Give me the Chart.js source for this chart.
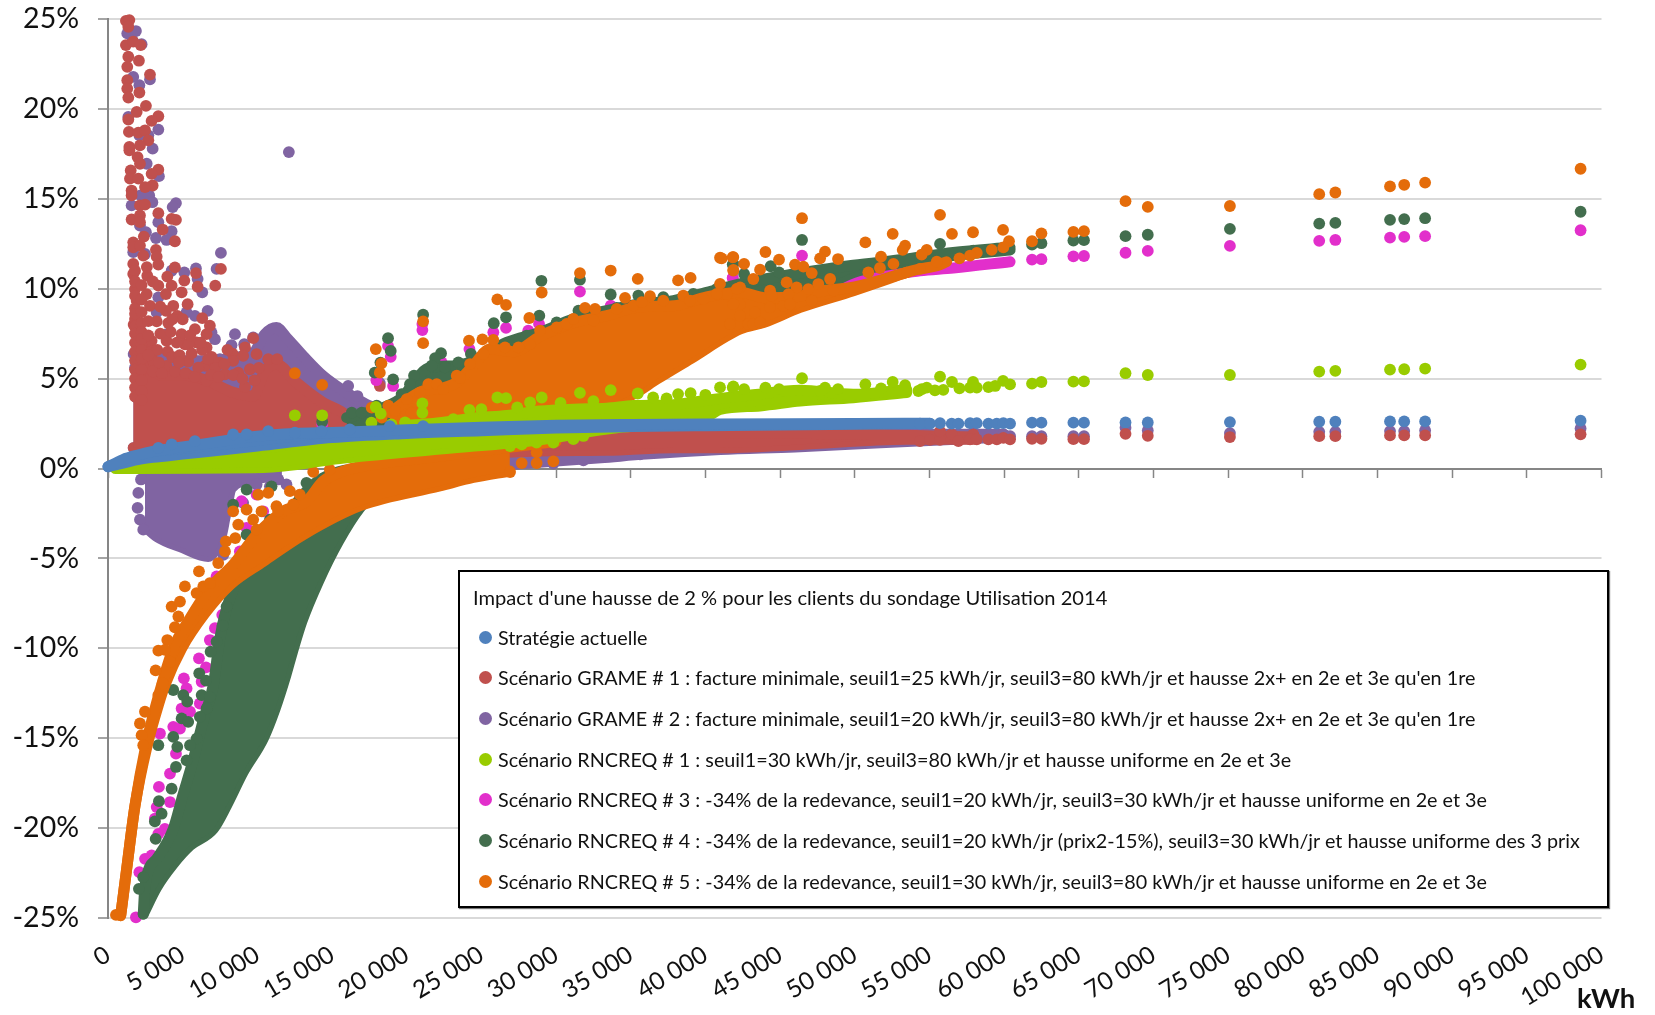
<!DOCTYPE html>
<html lang="fr">
<head>
<meta charset="utf-8">
<title>Impact d'une hausse de 2 %</title>
<script src="https://cdn.jsdelivr.net/npm/chart.js@4/dist/chart.umd.js"></script>
<style>
  html, body { margin: 0; padding: 0; background: #fff; }
  #wrap { position: relative; width: 1655px; height: 1015px; overflow: hidden; font-family: Lato, sans-serif; color: #111; }
  #legendBox { position: absolute; left: 458px; top: 570px; width: 1151px; height: 338px; background: #fff;
    border: 2px solid #000; box-shadow: 1px 1px 1px #777; box-sizing: border-box; }
  #legendBox div { position: absolute; white-space: nowrap; font-size: 19.75px; line-height: 24px; }
  #legendBox span { position: absolute; width: 13px; height: 13px; border-radius: 50%; }
  #unit { position: absolute; left: 1577px; top: 983px; font-size: 27.5px; font-weight: bold; line-height: 30px; }
</style>
</head>
<body>
<div id="wrap">
  <canvas id="chart" width="1655" height="1015"></canvas>
  <div id="legendBox"></div>
  <div id="unit">kWh</div>
</div>
<script>
const xTickLabels = ["0", "5 000", "10 000", "15 000", "20 000", "25 000", "30 000", "35 000", "40 000", "45 000", "50 000",
  "55 000", "60 000", "65 000", "70 000", "75 000", "80 000", "85 000", "90 000", "95 000", "100 000"];
const legendTitle = "Impact d'une hausse de 2 % pour les clients du sondage Utilisation 2014";
const seriesNames = [
  "Stratégie actuelle",
  "Scénario GRAME # 1 : facture minimale, seuil1=25 kWh/jr, seuil3=80 kWh/jr et hausse 2x+ en 2e et 3e qu'en 1re",
  "Scénario GRAME # 2 : facture minimale, seuil1=20 kWh/jr, seuil3=80 kWh/jr et hausse 2x+ en 2e et 3e qu'en 1re",
  "Scénario RNCREQ # 1 : seuil1=30 kWh/jr, seuil3=80 kWh/jr et hausse uniforme en 2e et 3e",
  "Scénario RNCREQ # 3 : -34% de la redevance, seuil1=20 kWh/jr, seuil3=30 kWh/jr et hausse uniforme en 2e et 3e",
  "Scénario RNCREQ # 4 : -34% de la redevance, seuil1=20 kWh/jr (prix2-15%), seuil3=30 kWh/jr et hausse uniforme des 3 prix",
  "Scénario RNCREQ # 5 : -34% de la redevance, seuil1=30 kWh/jr, seuil3=80 kWh/jr et hausse uniforme en 2e et 3e"
];
const seriesColors = ["#4F81BD", "#C0504D", "#8064A2", "#99CC00", "#E22FCB", "#436E4E", "#E46C0A"];

// gros consommateurs, bien separes a droite
const farX = [61870, 62500, 64640, 65350, 68130, 69620, 75120, 81100, 82180, 85840, 86790, 88190, 98600];
const farBlue = [2.55, 2.55, 2.55, 2.55, 2.56, 2.56, 2.58, 2.6, 2.6, 2.62, 2.62, 2.62, 2.66];
const farRed = [1.65, 1.65, 1.63, 1.63, 1.93, 1.82, 1.75, 1.8, 1.8, 1.84, 1.84, 1.84, 1.9];
const farPurple = [1.8, 1.8, 1.8, 1.8, 2.27, 2.12, 1.97, 2.04, 2.04, 2.08, 2.08, 2.12, 2.23];
const farLime = [4.72, 4.81, 4.83, 4.85, 5.3, 5.2, 5.2, 5.39, 5.43, 5.5, 5.52, 5.56, 5.78];
const farMagenta = [11.62, 11.64, 11.8, 11.82, 12.0, 12.1, 12.38, 12.66, 12.71, 12.84, 12.88, 12.92, 13.25];
const farGreen = [12.45, 12.53, 12.68, 12.7, 12.92, 13.0, 13.33, 13.62, 13.66, 13.83, 13.87, 13.92, 14.28];
const farOrange = [12.64, 13.08, 13.16, 13.2, 14.87, 14.55, 14.6, 15.26, 15.35, 15.69, 15.78, 15.9, 16.67];

// Strategie actuelle
const blueUpper = [[0,0.1],[500,0.3],[1000,0.5],[2000,0.75],[3000,0.95],[5000,1.2],[7500,1.5],[10000,1.8],[12500,1.95],[15000,2.0],[20000,2.15],[25000,2.3],[30000,2.4],[35000,2.45],[40000,2.48],[50000,2.5],[55000,2.52]];
const blueLower = [[0,0.1],[500,0.2],[1000,0.3],[2000,0.5],[3000,0.62],[5000,0.8],[10000,1.25],[15000,1.72],[20000,1.95],[25000,2.1],[30000,2.25],[35000,2.33],[40000,2.38],[50000,2.46],[55000,2.5]];
const blueDots = [[3370,1.15],[4260,1.34],[5820,1.52],[8380,1.9],[9280,1.9],[10730,2.08],[12510,1.99],[14290,2.08],[16190,2.17],[18870,2.36],[21100,2.36],
  [54370,2.5],[55040,2.5],[55710,2.52],[56490,2.5],[56940,2.5],[57720,2.52],[58170,2.52],[58950,2.5],[59510,2.5],[59950,2.52],[60400,2.5]];

// GRAME # 1
const redUpper = [[1690,8],[2590,7],[3480,5.2],[5040,5.2],[6600,4.9],[8160,4.3],[9720,4.03],[10500,5.43],[11280,5.8],[12620,4.78],[14400,3.66],[15970,2.92],[16640,2.08]];
const redLower = [[1690,1.15],[5490,1.25],[16640,1.52]];
const redMidUpper = [[20000,2.0],[41000,2.0],[53500,1.85],[58000,1.75]];
const redMidLower = [[20000,0.5],[28930,0.98],[33390,1.01],[37860,1.16],[40980,1.15],[46340,1.34],[53480,1.62],[58000,1.62]];
const redDots = [[1200,24.9],[1430,24.94],[1360,24.57],[1200,23.55],[1690,23.74],[2190,23.55],[1360,22.9],[2070,22.68],[2810,21.91],[1290,22.34],[1290,21.6],[1290,21.13],[2100,20.91],[1360,20.63],[2540,20.17],[1920,19.83],[1360,19.41],[3370,19.59],[2920,19.33],[1400,18.72],[2030,18.68],[2480,18.81],[2700,18.25],[2140,17.97],[1430,17.88],[1430,17.7],[1980,17.32],[2140,16.95],[3370,16.62],[2920,16.39],[1520,16.58],[1470,16.12],[2030,16.12],[2990,15.74],[2480,15.65],[1580,15.46],[1580,15.19],[2140,14.63],[2480,14.68],[3370,14.2],[1580,13.85],[2140,14.07],[4260,13.88],[4550,13.83],[2140,13.7],[3660,13.29],[4480,12.64],[1690,12.58],[1690,12.3],[2140,12.4],[3210,12.16],[3260,11.78],[2360,11.84],[1690,11.38],[3370,11.34],[4480,11.19],[7560,11.1],[1690,10.82],[2630,10.72],[3970,10.67],[5890,10.87],[5110,10.45],[7180,10.17],[6000,10.11],[3370,10.17],[4260,10.17],[1810,9.98],[4930,9.8],[2590,9.7],[3880,9.7],[1920,9.33],[5330,9.14],[4370,9.05],[2810,9.05],[3880,8.77],[4640,8.49],[1810,8.31],[6310,8.36],[3260,8.18],[4040,8.09],[6820,7.94],[5820,7.75],[4930,7.47],[6600,7.47],[9720,7.25],[2920,7.1],[3920,7.1],[5930,7.01],[5150,6.91],[6600,6.73],[8340,6.39],[9170,6.73],[9950,6.36],[6940,6.21],[10730,6.08],[11330,6.08],[8380,5.99],[7490,5.89],[9050,6.26],[5370,5.95],[6490,5.71],[6040,5.61],[3920,5.71],[3030,5.99],[2140,5.89],[9500,5.52],[7830,5.24],[8720,5.33],[6600,4.87],[9170,4.54],[18200,4.59],
  [1810,11],[1810,10.4],[1810,9.6],[1810,8.9],[1810,8.6],[1810,7.9],[1810,7.5],[1810,7],[1810,6.5],[1810,6],[1810,5.5],[1810,5],[1810,4.5],[1810,4],
  [2250,10.2],[2250,9.4],[2250,8.7],[2250,8.1],[2250,7.6],[2250,7.2],[2250,6.6],[2250,6.1],[2250,5.5],[2250,4.9],[2250,4.3],[2250,3.8],
  [2700,8.2],[2700,7.4],[2900,6.5],[3300,6.6],[3500,7.5],[4000,6.5],[4300,6.2],[4600,7.0],[4800,6.3],[5400,6.9],[5600,6.4],[5000,8.3],[5500,7.4],[6300,6.6],[6200,7.0],[7000,6.0],[7200,5.6],[7800,5.8],[8400,5.2],[9000,5.0],[9800,4.9],[10100,5.6],[3000,5.4],[3600,5.3],[4500,5.4],[5200,5.3],[5800,5.1],[6900,5.2],[7400,5.1],
  [2400,12.9],[2600,11.2],[3000,10.4],[3500,9.0],[4300,8.3],[2700,6.3],[3400,5.9],[4200,7.6],[4750,5.9],[6700,6.1],[8000,6.6],
  [54370,1.52],[55040,1.6],[55710,1.6],[55710,2.07],[56490,1.9],[56940,1.52],[57940,1.9],[57720,1.62],[58170,1.62],[58950,1.62],[59510,1.62],[59950,1.7],[60400,1.62]];

// GRAME # 2
const purpleUpper = [[1690,6.36],[5490,5.99],[9720,6.45],[10500,7.47],[11280,7.84],[11950,7.29],[13070,6.26],[14400,5.15],[15970,4.22],[17300,3.57],[18870,3.01]];
const purpleLower = [[1690,1.15],[18870,1.6]];
const purpleNegUpper = [[2475,-0.15],[7050,-0.15],[11280,-0.15]];
const purpleNegLower = [[2475,-3.2],[3260,-3.77],[5040,-4.42],[6710,-4.89],[7600,-3.68],[7830,-2.75],[8270,-1.08],[9720,-0.61],[11280,-0.33]];
const purpleMidUpper = [[25000,1.5],[42000,1.9],[60000,1.9]];
const purpleMidLower = [[25000,0.1],[30000,0.42],[33000,0.6],[36000,0.8],[41000,1.05],[46000,1.2],[53500,1.5],[60000,1.75]];
const purpleDots = [[1290,24.2],[1870,24.33],[1650,23.79],[2250,23.6],[1690,21.78],[2100,21.32],[2810,21.64],[1360,19.55],[3370,18.85],[2700,18.53],[2100,18.53],[2990,17.79],[2590,16.95],[3410,16.26],[2190,15.19],[2760,15.19],[2970,14.81],[1580,14.63],[4550,14.76],[4330,14.54],[3370,13.7],[2140,13.51],[2540,13.14],[4260,13.2],[3210,12.82],[3920,12.71],[1690,12.03],[2480,11.93],[7560,11.99],[7270,11.1],[5890,11.13],[5110,10.91],[4260,11.0],[6000,10.54],[6310,9.8],[3370,9.52],[6670,8.77],[3260,8.68],[5820,8.49],[5260,8.68],[8500,7.47],[8270,6.86],[9120,6.91],[9720,7.29],[7160,7.19],[6930,7.57],[3920,7.47],[7490,6.08],[16080,4.59],[16700,4.03],[12110,17.6],[1810,5.61],[1920,3.94],
  [2210,-0.61],[2030,-1.36],[1980,-2.19],[2140,-2.84],[2360,-3.4],[11950,-0.89],[11400,-0.61],[10840,-0.99],[9950,-0.89],[9050,-1.91],[7720,-4.8],
  [29820,0.27],[31830,0.46],[33170,0.64],[35620,0.79],[54820,1.9],[56380,1.9],[57940,2.0],[59950,1.9],[60400,1.8],[18200,4.75]];

// RNCREQ # 1
const limeUpper = [[500,0.05],[2000,0.35],[5000,0.7],[10000,1.1],[15000,1.6],[22000,2.0],[30000,2.4],[40000,2.5]];
const limeLower = [[500,0],[10400,0.05],[15535,0.55],[22230,1.08],[28930,1.6],[34060,2.27],[40000,2.5]];
const limeTopUpper = [[20000,2.4],[21780,2.5],[24460,2.8],[26700,2.95],[28930,3.2],[31160,3.3],[33390,3.35],[35180,3.5],[37860,3.55],[40090,3.8],[43210,4.1],[46340,4.35],[49900,4.13],[53480,4.4]];
const limeTopLower = [[20000,2.3],[30000,2.5],[35000,2.74],[40090,2.9],[40980,3.29],[43660,3.48],[46340,3.75],[49900,3.94],[53480,4.22]];
const limeDots = [[12510,2.96],[14340,2.96],[17930,3.42],[18260,3.05],[17640,2.55],[21050,3.62],[21050,3.1],[18980,2.45],[26920,1.25],[27700,1.35],[28700,1.44],[29820,1.44],[31160,1.63],[31830,1.81],[26470,1.53],
  [46470,5.02],[55710,5.11],[52540,4.81],[56510,4.81],[50710,4.68],[57920,4.81],[59930,4.87],[44020,4.5],[44930,4.41],[41830,4.5],[42590,4.41],[48010,4.5],[47680,4.31],[48880,4.41],[53370,4.63],[54820,4.5],[54480,4.41],[54260,4.31],[55370,4.35],[55930,4.37],[57010,4.46],[57720,4.5],[58170,4.5],[58950,4.53],[59400,4.59],[60400,4.68],[51760,4.46],
  [26070,3.95],[26650,3.91],[29040,3.95],[31600,4.21],[33660,4.36],[35470,4.17],[38170,4.14],[39010,4.19],[40980,4.51],[41870,4.56],[24200,3.26],[28260,3.67],[19890,2.56],[23120,2.74],[25000,3.3],[27400,3.4],[30300,3.65],[32500,3.75],[36500,3.95],[37400,3.9],[40000,4.1]];

// RNCREQ # 3
const magentaChain = [[30000,6],[36000,8.2],[42100,9.52],[45440,9.98],[49900,10.54],[53480,10.9],[54370,11.0],[56600,11.15],[60400,11.5]];
const magentaDots = [[1870,-24.96],[2100,-22.45],[2480,-21.71],[2920,-21.52],[3370,-20.32],[3810,-20.04],[3140,-19.48],[3260,-18.83],[4150,-18.55],[3410,-17.71],[4150,-16.97],[4550,-15.86],[4370,-14.37],[4820,-14.46],[3480,-14.74],[4930,-13.35],[5490,-13.53],[6150,-13.07],[5080,-11.67],[5260,-12.23],[6090,-10.56],[6560,-11.06],[6820,-9.54],[7230,-11.21],[6270,-11.86],[7160,-8.88],[7650,-8.14],[8380,-8.23],[8830,-7.03],[9280,-6.84],[7270,-6.0],[8830,-4.61],[9280,-3.31],[10390,-2.38],[8940,-1.82],[9950,-1.45],
  [14340,2.45],[16190,2.92],[17970,4.91],[18750,6.82],[18930,6.21],[19090,4.59],[21050,8.03],[21050,7.7],
  [24200,6.64],[25800,7.58],[26650,7.82],[28860,8.04],[31600,9.84],[33660,9.06],[35510,9.15],[41830,10.6],[41540,9.43],[28140,7.67],[21560,5.44],[22340,5.9],[20330,4.5],[46470,11.84],[41830,10.6]];

// RNCREQ # 4
const greenNegUpper = [[2360,-24.78],[2480,-23.2],[3260,-21.71],[4370,-20.04],[5000,-18.2],[5710,-16.2],[6380,-14],[7050,-12.04],[7490,-9.44],[8160,-7.21],[9500,-5.17],[11280,-3.49],[13070,-1.45],[14400,-0.52],[18870,0.22]];
const greenNegLower = [[2360,-24.78],[3260,-23.29],[4370,-21.99],[5490,-20.97],[7050,-20.04],[7940,-18.74],[9050,-16.88],[10390,-15.02],[11190,-13.35],[11910,-11.49],[12350,-10.2],[12980,-8.51],[14090,-6.28],[15430,-4.05],[16860,-2.19],[18870,-0.52]];
const greenPosUpper = [[15980,2.83],[17770,3.21],[19550,3.86],[21560,5.62],[23350,5.72],[24460,6.0],[26700,7.02],[28930,7.57],[31160,8.32],[33390,8.78],[35620,9.15],[37860,9.34],[40090,9.8],[42320,10.27],[46560,10.9],[49900,11.3],[53480,11.65],[56600,12.02],[60400,12.3]];
const greenPosLower = [[15980,1.5],[30000,2.5],[42320,8],[46560,9.5],[49900,10.9],[53480,11.5],[56600,11.85],[60400,12.15]];
const greenDots = [[3370,-15.39],[4370,-14.93],[4640,-15.48],[4550,-16.6],[5260,-16.23],[4260,-17.81],[3410,-18.5],[3590,-19.2],[3140,-19.63],[3190,-20.6],[2360,-22.73],[2070,-23.38],[4370,-12.32],[5040,-12.6],[5310,-12.97],[6110,-11.39],[6560,-11.8],[6870,-10.19],[6270,-12.6],[6820,-12.7],[6600,-13.35],[6150,-13.81],[4930,-13.9],[5370,-14.09],[5930,-15.02],[5490,-15.39],[7670,-8.74],[7270,-9.63],[7940,-7.68],[9280,-1.17],[8380,-2.01],[10840,-2.84],[9280,-3.68],[10950,-0.99],[13290,-0.8],[14180,-0.99],[14850,-0.61],
  [14340,2.6],[18750,7.25],[18930,6.54],[19090,4.96],[21100,8.55],[18240,5.89],[17860,5.33],
  [29020,10.44],[31600,10.5],[26650,8.41],[25830,8.08],[28880,8.5],[24300,6.37],[33660,9.68],[35510,9.62],[41870,11.39],[22300,6.41],[21900,6.14],[20490,5.16],[20220,4.69],[23460,5.9],[31500,8.78],[30040,8.13],
  [46470,12.71],[55710,12.49],[44370,11.25],[41830,11.34],[42590,10.82],[44930,10.91],[54370,11.75],[57940,12.12],[59060,12.16],[59950,12.27],
  [16320,3.11],[16990,3.11],[17990,3.49],[19660,4.14],[21670,5.72],[22560,5.62],[25800,6.74],[28030,7.39],[34060,8.93],[37180,9.53],[39190,9.71],[40760,9.99]];

// RNCREQ # 5
const orangeNegUpper = [[850,-24.87],[1250,-22.27],[1810,-18.74],[2540,-15.39],[3210,-13.16],[3590,-12.04],[4370,-10],[5490,-8.33],[6820,-6.65],[8380,-5.35],[9950,-3.68],[11730,-2.38],[13290,-1.82],[14400,-0.71],[15740,-0.15],[17080,0.13],[22210,0.68],[27000,1.2],[30000,1.5]];
const orangeNegLower = [[850,-24.87],[1250,-22.27],[1810,-18.74],[2630,-15.39],[3370,-13.16],[3810,-12.04],[4930,-10],[6490,-8.05],[8160,-6.47],[10390,-5.17],[13070,-3.68],[16970,-2.04],[22210,-0.97],[24460,-0.5],[26900,-0.14]];
const orangePosUpper = [[18880,3.11],[21115,4.32],[22010,4.41],[23350,4.79],[24460,5.72],[25580,6.65],[27140,6.5],[28930,7.35],[31160,8.1],[33390,8.5],[35620,9.0],[37860,9.05],[40090,9.55],[42320,9.8],[44000,9.5],[46000,9.55],[48000,9.9],[50000,10.1],[53480,10.91]];
const orangePosLower = [[18880,1.5],[30000,2.5],[35180,4.14],[36740,4.97],[38970,6.09],[42320,7.76],[43880,8.12],[46340,8.96],[49900,9.89],[53480,10.91]];
const orangeChain = [[53480,10.91],[54370,11.1],[55500,11.28],[56150,11.5]];
const orangeDots = [[535,-24.83],[2475,-13.53],[2140,-14.18],[2250,-14.83],[2360,-15.39],[3970,-9.54],[3370,-10.13],[3810,-10.09],[3190,-11.23],[4150,-10.74],[3660,-11.95],[3370,-12.6],[4260,-7.68],[4710,-8.23],[4480,-8.83],[4820,-7.4],[5150,-6.56],[5930,-6.93],[6090,-5.72],[6380,-6.56],[6820,-6.38],[7890,-4.05],[8520,-3.87],[7380,-5.26],[7830,-4.61],[8380,-2.38],[9280,-2.29],[8720,-3.12],[9720,-2.84],[9950,-3.4],[10280,-2.38],[10060,-1.45],[10730,-1.36],[11280,-2.1],[12180,-1.26],[11400,-2.38],[13740,-0.19],[14850,-0.06],[12840,-1.45],[12400,-2.0],
  [12510,5.3],[14340,4.65],[17930,6.64],[18310,5.85],[18200,5.33],[21100,8.18],[21100,6.97],
  [26070,9.41],[26650,9.1],[29040,9.79],[31600,10.87],[33660,11.01],[35470,10.55],[38170,10.46],[39010,10.6],[40980,11.72],[41870,11.76],[41870,11.01],[28210,8.37],[24170,7.11],[25070,7.18],[25800,7.15],[34620,9.49],[36290,9.58],[31940,8.93],[32610,8.87],[37180,9.34],[38520,9.62],[40980,10.27],
  [46470,13.92],[55710,14.11],[52540,13.05],[56510,13.05],[50710,12.58],[57920,13.14],[59930,13.27],[44020,12.04],[44930,11.62],[41830,11.75],[41090,11.69],[42590,11.38],[48010,12.06],[47680,11.69],[48880,11.65],[53370,12.4],[53210,12.16],[54820,12.16],[54480,11.9],[60330,12.64],[59950,12.3],[59170,12.16],[58170,11.99],[57720,11.84],[51760,11.78],[52590,11.38],[51690,11.15],[50910,10.91],[46000,11.34],[46560,11.23],[47120,10.87],[43660,11.06],[41870,11.04],[44330,8.96],[57010,11.69],[55490,11.51],[54370,11.1],[44330,9.89],[44440,9.61],[45440,10.35],[46110,10.07],[45560,9.7],[46890,9.98],[48350,10.54],[47560,10.26],[48570,9.89],[45220,9.05],[45670,9.14],[47120,9.33],[43210,10.54],[42320,10.07],[41430,9.7],[43320,8.68],[42320,8.49],[41650,8.03],[42880,8.03],[42320,9.14],[43210,8.03],[41870,9.14],[43660,8.12],
  [26920,-0.2],[27700,0.3],[28700,0.3],[29820,0.4],[28700,0.9],
  [20000,3.86],[20890,4.23],[21450,4.69],[22010,4.69],[22450,4.41],[23350,5.16],[24240,5.81],[23570,5.06],[25130,6.37],[26580,6.74],[27480,6.74],[28260,6.92],[28930,7.67],[30040,7.85],[30710,8.04],[31160,8.32],[32500,8.23],[34060,8.88],[35180,9.06],[35740,9.25],[38970,9.34],[39860,9.43],[40760,9.71],[42100,9.99],[17650,3.39],[18770,3.49],[19220,3.21],[18330,2.83],[20330,3.11]];

const [cBlue, cRed, cPurple, cLime, cMagenta, cGreen, cOrange] = seriesColors;
const pts = list => list.map(p => ({ x: p[0], y: p[1] }));
const zip = (xs, ys) => xs.map((x, i) => [x, ys[i]]);

function dots(color, list) {
  return { data: pts(list), backgroundColor: color, borderWidth: 0, pointRadius: 5.9, pointBorderWidth: 0, showLine: false, clip: false };
}
function chain(color, list) {
  return { data: pts(list), borderColor: color, backgroundColor: color, borderWidth: 11, borderCapStyle: "round", borderJoinStyle: "round",
    cubicInterpolationMode: "monotone", pointRadius: 0, showLine: true, clip: false };
}
function band(color, upper, lower) {
  return [Object.assign(chain(color, upper), { fill: "+1" }), chain(color, lower)];
}

// le premier jeu est dessine au-dessus des suivants
const datasets = [
  dots(cBlue, blueDots.concat(zip(farX, farBlue))),
  ...band(cBlue, blueUpper, blueLower),
  dots(cLime, limeDots.concat(zip(farX, farLime))),
  ...band(cLime, limeUpper, limeLower),
  ...band(cLime, limeTopUpper, limeTopLower),
  dots(cOrange, orangeDots.concat(zip(farX, farOrange))),
  chain(cOrange, orangeChain),
  ...band(cOrange, orangePosUpper, orangePosLower),
  ...band(cOrange, orangeNegUpper, orangeNegLower),
  dots(cGreen, greenDots.concat(zip(farX, farGreen))),
  ...band(cGreen, greenPosUpper, greenPosLower),
  ...band(cGreen, greenNegUpper, greenNegLower),
  dots(cMagenta, magentaDots.concat(zip(farX, farMagenta))),
  chain(cMagenta, magentaChain),
  dots(cRed, redDots.concat(zip(farX, farRed))),
  ...band(cRed, redUpper, redLower),
  ...band(cRed, redMidUpper, redMidLower),
  dots(cPurple, purpleDots.concat(zip(farX, farPurple))),
  ...band(cPurple, purpleUpper, purpleLower),
  ...band(cPurple, purpleNegUpper, purpleNegLower),
  ...band(cPurple, purpleMidUpper, purpleMidLower)
];

new Chart(document.getElementById("chart"), {
  type: "scatter",
  data: { datasets: datasets },
  options: {
    responsive: false,
    animation: false,
    layout: { padding: { left: 0, top: 19, right: 53.5, bottom: 0 } },
    plugins: { legend: { display: false }, tooltip: { enabled: false } },
    scales: {
      x: {
        type: "linear", min: 0, max: 100000,
        afterFit: s => { s.height = 97; },
        border: { display: false },
        grid: { display: false },
        ticks: {
          stepSize: 5000, autoSkip: false, minRotation: 31, maxRotation: 31, padding: 14,
          color: "#111", font: { family: "Lato", size: 24.5 },
          callback: (v, i) => xTickLabels[i]
        }
      },
      axisZero: {
        type: "linear", axis: "x", min: 0, max: 100000, position: { y: 0 },
        afterFit: s => { s.height = 0; },
        border: { display: true, color: "#868686", width: 2 },
        grid: { drawOnChartArea: false, drawTicks: true, tickLength: 8, tickColor: "#868686", tickWidth: 1.5 },
        ticks: { display: false, stepSize: 5000, autoSkip: false }
      },
      y: {
        min: -25, max: 25,
        afterFit: s => { s.width = 108; s.paddingTop = 0; s.paddingBottom = 0; },
        border: { display: true, color: "#868686", width: 2 },
        grid: { color: "#d9d9d9", lineWidth: 2, tickColor: "#868686", tickLength: 10, tickWidth: 1.5 },
        ticks: {
          stepSize: 5, padding: 19, color: "#111", font: { family: "Lato", size: 28.5 },
          callback: v => v + "%"
        }
      }
    }
  }
});

const box = document.getElementById("legendBox");
const titleEl = document.createElement("div");
titleEl.textContent = legendTitle;
titleEl.style.left = "13px";
titleEl.style.top = "13px";
titleEl.style.fontSize = "20.1px";
box.appendChild(titleEl);
seriesNames.forEach((name, i) => {
  const top = 53.5 + i * 40.7;
  const mark = document.createElement("span");
  mark.style.left = "19px";
  mark.style.top = (top + 5) + "px";
  mark.style.background = seriesColors[i];
  box.appendChild(mark);
  const row = document.createElement("div");
  row.textContent = name;
  row.style.left = "38px";
  row.style.top = top + "px";
  box.appendChild(row);
});
</script>
</body>
</html>
